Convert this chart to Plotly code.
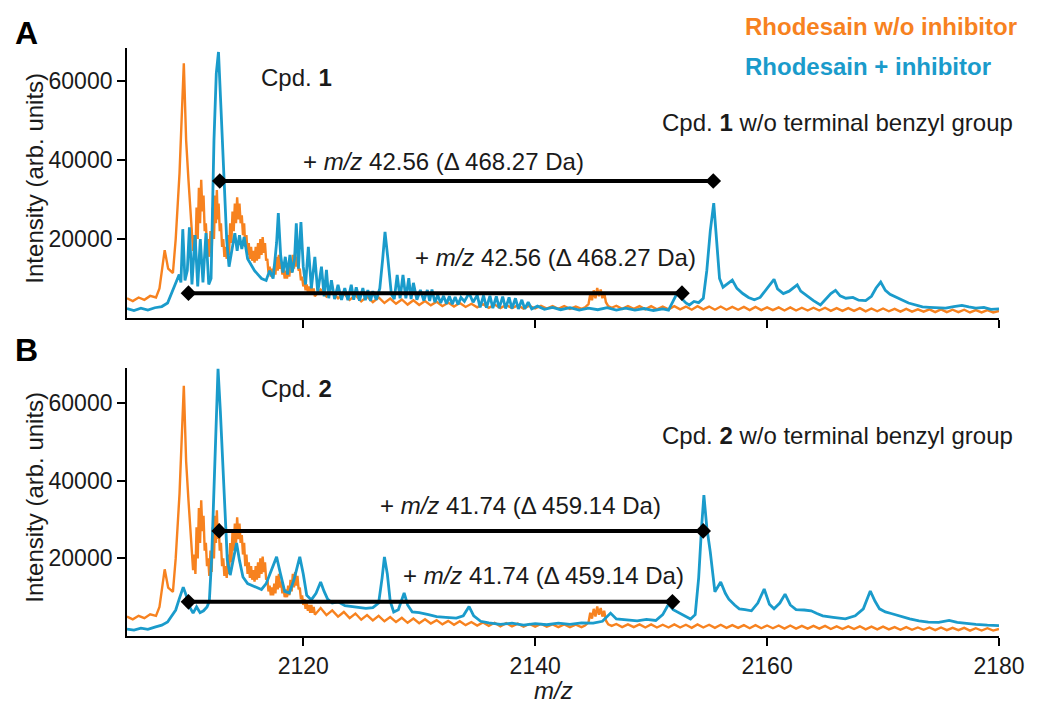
import plotly.graph_objects as go

# ---------------------------------------------------------------- data
# Rhodesain without inhibitor (same control spectrum in both panels);
# the 2110-2121 stretch follows the upper and lower edge of the noisy band
control_mz = [2104.8, 2105.3, 2105.8, 2106.3, 2106.8, 2107.3, 2107.6, 2108.05, 2108.35, 2108.76,
              2109.0, 2109.33, 2109.7, 2109.9, 2110.1, 2110.25,
              2110.4, 2110.5, 2110.6, 2110.7, 2110.8, 2110.9, 2111.0, 2111.1, 2111.2, 2111.3,
              2111.4, 2111.5, 2111.6, 2111.7, 2111.8, 2111.9, 2112.0, 2112.1, 2112.2, 2112.3,
              2112.4, 2112.47, 2112.55, 2112.62, 2112.7, 2112.8, 2112.9, 2113.0, 2113.1, 2113.2,
              2113.3, 2113.4, 2113.5, 2113.6, 2113.7, 2113.8, 2113.9, 2114.0, 2114.1, 2114.2,
              2114.3, 2114.4, 2114.5, 2114.6, 2114.7, 2114.8, 2114.9, 2115.0, 2115.1, 2115.2,
              2115.3, 2115.4, 2115.5, 2115.6, 2115.7, 2115.8, 2115.9, 2116.0, 2116.1, 2116.2,
              2116.3, 2116.4, 2116.5, 2116.6, 2116.7, 2116.8, 2116.9, 2117.0, 2117.1, 2117.2,
              2117.3, 2117.4, 2117.5, 2117.6, 2117.7, 2117.8, 2117.9, 2118.0, 2118.1, 2118.2,
              2118.3, 2118.4, 2118.5, 2118.6, 2118.7, 2118.8, 2118.9, 2119.0, 2119.1, 2119.2,
              2119.3, 2119.4, 2119.5, 2119.6, 2119.7, 2119.8, 2119.9, 2120.0, 2120.1, 2120.2,
              2120.3, 2120.4, 2120.5, 2120.6, 2120.7, 2120.8, 2120.9, 2121.0,
              2121.5, 2122.0, 2122.5, 2123.0, 2123.5, 2124.0, 2124.5, 2125.0, 2125.5, 2126.0,
              2126.5, 2127.0, 2127.5, 2128.0, 2128.5, 2129.0, 2129.5, 2130.0, 2130.5, 2131.0,
              2131.5, 2132.0, 2132.5, 2133.0, 2133.5, 2134.0, 2134.5, 2135.0, 2135.5, 2136.0,
              2136.5, 2137.0, 2137.5, 2138.0, 2138.5, 2139.0, 2139.5, 2140.0, 2140.5, 2141.0,
              2141.5, 2142.0, 2142.5, 2143.0, 2143.5, 2144.0, 2144.3, 2144.6, 2144.75, 2144.9,
              2145.05, 2145.2, 2145.35, 2145.5, 2145.65, 2145.8, 2145.95, 2146.1, 2146.3, 2146.6,
              2147.0, 2147.5, 2148.0, 2148.5, 2149.0, 2149.5, 2150.0, 2150.5, 2151.0, 2151.5,
              2152.0, 2152.5, 2153.0, 2153.5, 2154.0, 2154.5, 2155.0, 2155.5, 2156.0, 2156.5,
              2157.0, 2157.5, 2158.0, 2158.5, 2159.0, 2159.5, 2160.0, 2160.5, 2161.0, 2161.5,
              2162.0, 2162.5, 2163.0, 2163.5, 2164.0, 2164.5, 2165.0, 2165.5, 2166.0, 2166.5,
              2167.0, 2167.5, 2168.0, 2168.5, 2169.0, 2169.5, 2170.0, 2170.5, 2171.0, 2171.5,
              2172.0, 2172.5, 2173.0, 2173.5, 2174.0, 2174.5, 2175.0, 2175.5, 2176.0, 2176.5,
              2177.0, 2177.5, 2178.0, 2178.5, 2179.0, 2179.5, 2180.0]
control_int = [5000, 4300, 5200, 4600, 5600, 5200, 7500, 17200, 12500, 11400,
               20000, 36700, 64500, 45000, 35000, 27000,
               22000, 17000, 21000, 16000, 28000, 20000, 33000, 24000, 35000, 27000,
               31000, 22000, 24000, 18000, 20000, 15500, 22000, 16500, 28000, 20000,
               31000, 24000, 32400, 25000, 29000, 22000, 24000, 18000, 20000, 15500,
               18000, 15000, 21000, 16000, 24000, 19000, 27000, 22000, 29000, 24000,
               30600, 25000, 29000, 24000, 26000, 21000, 24000, 18000, 21000, 16000,
               19000, 15000, 18000, 14500, 17000, 14000, 18000, 14500, 19000, 15000,
               20000, 16000, 20500, 16500, 19000, 14500, 15000, 11500, 13000, 10500,
               12500, 10500, 13500, 11000, 15500, 12000, 16000, 12500, 14000, 11000,
               12500, 10000, 12000, 10000, 13000, 10500, 14500, 11500, 16000, 12500,
               16500, 13000, 15500, 12000, 12500, 9500, 10500, 8000, 9500, 7000,
               8500, 6500, 8000, 6000, 8000, 6000, 7500, 5500,
               7200, 5400, 6600, 5000, 6200, 4600, 5800, 4200, 5400, 4000,
               5200, 3800, 4900, 3600, 4700, 3400, 4500, 3300, 4300, 3200,
               4100, 3000, 3900, 2900, 3800, 2800, 3600, 2700, 3500, 2600,
               3400, 2500, 3300, 2500, 3200, 2400, 3100, 2400, 3100, 2400,
               3000, 2300, 3000, 2300, 2900, 2300, 2700, 3500, 6000, 4500,
               7000, 5000, 7600, 5500, 7200, 5000, 6500, 4000, 3000, 2600,
               3100, 2300, 3000, 2300, 3000, 2200, 3000, 2200, 2900, 2200,
               3000, 2200, 2900, 2100, 3000, 2200, 2900, 2100, 2900, 2100,
               2800, 2100, 2800, 2000, 2800, 2000, 2700, 2000, 2700, 1900,
               2700, 1900, 2600, 1900, 2600, 1900, 2600, 1800, 2500, 1800,
               2500, 1800, 2500, 1700, 2400, 1700, 2400, 1700, 2300, 1600,
               2300, 1600, 2200, 1600, 2200, 1500, 2200, 1500, 2100, 1500,
               2100, 1400, 2000, 1400, 2000, 1400, 1800]

# Rhodesain + compound 1
cpd1_mz = [2104.8, 2105.4, 2106.0, 2106.6, 2107.2, 2107.8, 2108.3, 2108.7, 2109.0, 2109.3,
           2109.45, 2109.61, 2109.8, 2110.0, 2110.18, 2110.4, 2110.67, 2110.9, 2111.12, 2111.35,
           2111.61, 2111.85, 2112.05, 2112.3, 2112.5, 2112.69, 2112.9, 2113.2, 2113.4, 2113.6,
           2113.9, 2114.1, 2114.3, 2114.5, 2114.7, 2114.9, 2115.2, 2115.5, 2115.8, 2116.1,
           2116.4, 2116.8, 2117.1, 2117.4, 2117.7, 2117.85, 2118.05, 2118.25, 2118.45, 2118.65,
           2118.85, 2119.05, 2119.25, 2119.4, 2119.58, 2119.8, 2120.0, 2120.2, 2120.44, 2120.7,
           2121.0, 2121.25, 2121.57, 2121.8, 2122.0, 2122.2, 2122.43, 2122.7, 2123.0, 2123.3,
           2123.58, 2123.85, 2124.14, 2124.35, 2124.57, 2124.85, 2125.14, 2125.35, 2125.57, 2125.8,
           2126.0, 2126.3, 2126.6, 2126.85, 2127.05, 2127.3, 2127.6, 2127.85, 2128.1, 2128.35,
           2128.6, 2128.85, 2129.1, 2129.3, 2129.5, 2129.8, 2130.1, 2130.4, 2130.7, 2130.9,
           2131.1, 2131.35, 2131.6, 2131.85, 2132.1, 2132.35, 2132.6, 2132.85, 2133.1, 2133.35,
           2133.6, 2133.9, 2134.3, 2134.65, 2135.0, 2135.25, 2135.55, 2135.8, 2136.1, 2136.35,
           2136.65, 2136.9, 2137.2, 2137.45, 2137.75, 2138.0, 2138.3, 2138.55, 2138.85, 2139.1,
           2139.4, 2139.7, 2140.2, 2140.8, 2141.5, 2142.2, 2143.0, 2143.8, 2144.6, 2145.4,
           2146.2, 2147.0, 2147.8, 2148.6, 2149.4, 2150.2, 2151.0, 2151.5, 2151.9, 2152.3,
           2152.6, 2153.0, 2153.3, 2153.7, 2154.1, 2154.5, 2154.8, 2155.1, 2155.4, 2155.65,
           2155.9, 2156.2, 2156.6, 2157.0, 2157.4, 2157.9, 2158.4, 2158.9, 2159.4, 2159.9,
           2160.3, 2160.6, 2160.9, 2161.4, 2161.9, 2162.3, 2162.6, 2162.9, 2163.4, 2164.0,
           2164.6, 2165.1, 2165.5, 2165.9, 2166.3, 2166.8, 2167.4, 2167.9, 2168.5, 2169.0,
           2169.4, 2169.8, 2170.2, 2170.6, 2171.1, 2171.6, 2172.2, 2172.8, 2173.4, 2174.0,
           2174.7, 2175.4, 2176.1, 2176.8, 2177.4, 2178.0, 2178.7, 2179.3, 2180.0]
cpd1_int = [2400, 1900, 2500, 2000, 2600, 2900, 3800, 6500, 8500, 11000,
            9000, 22500, 9500, 12000, 23000, 8500, 21000, 8000, 20000, 9000,
            21500, 8500, 10000, 45000, 62000, 67400, 53400, 32400, 19700, 13000,
            18000, 21500, 17000, 21000, 17500, 20500, 15000, 13500, 12000, 11000,
            10000, 9500, 12000, 10000, 19000, 26600, 16000, 11500, 15500, 11000,
            16000, 11500, 15000, 24000, 12500, 24300, 13000, 8500, 18000, 7500,
            15500, 6500, 13000, 5500, 12200, 5000, 9600, 4800, 8400, 4600,
            7600, 4500, 8400, 4600, 7800, 4400, 7600, 4500, 7100, 4300,
            6800, 4600, 7500, 15000, 21800, 15000, 6000, 4800, 10900, 5000,
            10900, 5000, 10100, 4800, 8900, 4600, 7100, 4400, 7100, 4300,
            7200, 4000, 5800, 3800, 5600, 3600, 5500, 3500, 5300, 3400,
            5200, 4200, 6300, 4000, 5800, 2700, 5700, 2600, 5600, 2500,
            5500, 2500, 5400, 2400, 5200, 2400, 5000, 2300, 4600, 2300,
            4000, 2300, 3000, 2200, 2700, 2100, 2600, 2000, 2500, 2100,
            2600, 2000, 2500, 2000, 2400, 1900, 2300, 2000, 4500, 6600,
            5000, 3800, 3300, 4200, 3900, 5000, 12000, 22000, 29100, 20000,
            10000, 7800, 8600, 9600, 7500, 6200, 5200, 4600, 5200, 7000,
            8500, 9800, 7400, 6200, 6800, 7800, 8400, 6800, 5600, 4400,
            3300, 4800, 6200, 7000, 5600, 5000, 5200, 4500, 4400, 5500,
            7600, 9100, 7000, 6000, 5200, 4600, 3800, 3200, 2800, 2700,
            2600, 2500, 2900, 3200, 2800, 2500, 2700, 2200, 2300]

# Rhodesain + compound 2
cpd2_mz = [2104.8, 2105.4, 2106.0, 2106.6, 2107.2, 2107.8, 2108.3, 2108.7, 2109.0, 2109.3,
           2109.65, 2109.9, 2110.2, 2110.5, 2110.8, 2111.1, 2111.4, 2111.7, 2111.9, 2112.1,
           2112.35, 2112.65, 2112.85, 2113.0, 2113.2, 2113.45, 2113.7, 2114.0, 2114.25, 2114.5,
           2114.8, 2115.2, 2115.6, 2116.0, 2116.4, 2116.8, 2117.2, 2117.7, 2118.0, 2118.4,
           2118.8, 2119.2, 2119.7, 2120.0, 2120.3, 2120.7, 2121.1, 2121.5, 2121.8, 2122.1,
           2122.5, 2123.0, 2123.6, 2124.2, 2124.8, 2125.4, 2126.0, 2126.5, 2126.8, 2127.0,
           2127.25, 2127.5, 2127.8, 2128.2, 2128.7, 2129.0, 2129.4, 2130.0, 2130.8, 2131.5,
           2132.3, 2133.2, 2133.8, 2134.3, 2134.7, 2135.3, 2136.0, 2137.0, 2138.0, 2139.0,
           2140.0, 2141.0, 2142.0, 2143.0, 2144.0, 2145.0, 2145.8, 2146.5, 2147.0, 2147.9,
           2148.8, 2149.6, 2150.4, 2151.0, 2151.5, 2151.9, 2152.4, 2152.9, 2153.4, 2153.8,
           2154.1, 2154.35, 2154.55, 2154.8, 2155.1, 2155.5, 2156.0, 2156.4, 2156.7, 2157.2,
           2157.6, 2158.1, 2158.65, 2159.2, 2159.75, 2160.2, 2160.6, 2161.1, 2161.55, 2162.0,
           2162.5, 2163.2, 2163.8, 2164.3, 2164.8, 2165.7, 2166.75, 2167.6, 2168.3, 2168.9,
           2169.3, 2169.7, 2170.2, 2170.7, 2171.5, 2172.3, 2173.1, 2173.9, 2174.8, 2175.7,
           2176.4, 2177.2, 2178.0, 2179.0, 2180.0]
cpd2_int = [1800, 1500, 2000, 1700, 2300, 2800, 3600, 5500, 6700, 9500,
            12600, 10500, 7500, 5900, 7500, 6000, 6500, 7500, 9000, 20000,
            45000, 68900, 58000, 48000, 32500, 19600, 15700, 20000, 24000, 19500,
            15200, 13500, 13000, 12400, 12000, 13500, 16500, 20400, 16500, 11500,
            11100, 14500, 20400, 16000, 10500, 9300, 11000, 13900, 11500, 9500,
            8500, 8800, 7800, 7600, 7400, 7100, 7300, 8500, 15000, 20400,
            16000, 9000, 6200, 6800, 11100, 8000, 6200, 6000, 5500, 5000,
            4800, 4600, 5200, 7600, 5200, 3800, 3400, 3000, 3300, 2800,
            3200, 2900, 3300, 3000, 3400, 3300, 3800, 5900, 4400, 4200,
            3900, 4300, 4000, 5500, 8200, 6800, 6000, 5000, 4400, 5500,
            15000, 28000, 36300, 28000, 21700, 11400, 13900, 11000, 9500, 8000,
            7000, 6800, 6500, 8500, 12100, 8200, 7000, 8500, 10800, 8000,
            6800, 6700, 6500, 5800, 5200, 4800, 4400, 5200, 7000, 11600,
            9000, 7000, 6200, 5800, 5000, 4400, 3900, 3600, 3500, 4000,
            3500, 3200, 3000, 2800, 2700]

# Mass shifts (m/z) of the adducts and where their brackets start
shift_cpd1 = 42.56
shift_cpd2 = 41.74
bracket_a_start = [2112.8, 2110.1]
bracket_a_level = [34700, 6300]
bracket_b_start = [2112.75, 2110.1]
bracket_b_level = [27100, 8800]

x_ticks = [2120, 2140, 2160, 2180]
y_ticks = [20000, 40000, 60000]

# ---------------------------------------------------------------- style
ORANGE = "#F7821F"
BLUE = "#1A9BCB"
INK = "#1a1a1a"
FONT = "Liberation Sans, Arial, sans-serif"
W, H = 1037, 706
L, R, T, B = 127, 32, 48, 70
PW, PH = W - L - R, H - T - B


def fx(px):
    return (px - L) / PW


def fy(py):
    return (H - B - py) / PH


fig = go.Figure()

for xa, ya, blue_mz, blue_int in [("x", "y", cpd1_mz, cpd1_int), ("x2", "y2", cpd2_mz, cpd2_int)]:
    fig.add_trace(go.Scatter(x=control_mz, y=control_int, mode="lines",
                             line=dict(color=ORANGE, width=2.4), xaxis=xa, yaxis=ya,
                             showlegend=False, hoverinfo="skip"))
    fig.add_trace(go.Scatter(x=blue_mz, y=blue_int, mode="lines",
                             line=dict(color=BLUE, width=2.8), xaxis=xa, yaxis=ya,
                             showlegend=False, hoverinfo="skip"))

# shift brackets: diamond-tipped lines spanning the labelled m/z shift
for xa, ya, starts, levels, shift in [("x", "y", bracket_a_start, bracket_a_level, shift_cpd1),
                                       ("x2", "y2", bracket_b_start, bracket_b_level, shift_cpd2)]:
    for s, lev in zip(starts, levels):
        fig.add_trace(go.Scatter(x=[s, s + shift], y=[lev, lev], mode="lines+markers",
                                 line=dict(color="black", width=4),
                                 marker=dict(symbol="diamond", size=12, color="black"),
                                 xaxis=xa, yaxis=ya, showlegend=False, hoverinfo="skip"))

axis_common = dict(showgrid=False, zeroline=False, showline=True, linecolor="black",
                   linewidth=1.8, ticks="outside", ticklen=8, tickwidth=1.5,
                   tickcolor="black", tickfont=dict(family=FONT, size=23, color=INK))

fig.update_layout(
    width=W, height=H,
    margin=dict(l=L, r=R, t=T, b=B),
    paper_bgcolor="white", plot_bgcolor="white",
    xaxis=dict(domain=[0, 1], anchor="y", range=[2104.8, 2180], tickvals=x_ticks,
               showticklabels=False, **axis_common),
    yaxis=dict(domain=[fy(318), 1.0], anchor="x", range=[0, 68400], tickvals=y_ticks,
               tickformat="d", **axis_common),
    xaxis2=dict(domain=[0, 1], anchor="y2", range=[2104.8, 2180], tickvals=x_ticks,
                **axis_common),
    yaxis2=dict(domain=[0, fy(368)], anchor="x2", range=[0, 69100], tickvals=y_ticks,
                tickformat="d", **axis_common),
)


def label(text, px, py, size=24, color=INK, xanchor="center", angle=0):
    fig.add_annotation(text=text, x=fx(px), y=fy(py), xref="paper", yref="paper",
                       showarrow=False, xanchor=xanchor, yanchor="middle", textangle=angle,
                       font=dict(family=FONT, size=size, color=color))


label("<b>A</b>", 26, 33, size=32, color="black")
label("<b>B</b>", 26, 350, size=32, color="black")
label("<b>Rhodesain w/o inhibitor</b>", 747, 26, color=ORANGE, xanchor="left")
label("<b>Rhodesain + inhibitor</b>", 747, 67, color=BLUE, xanchor="left")

label("Cpd. <b>1</b>", 260, 77, xanchor="left")
label("Cpd. <b>1</b> w/o terminal benzyl group", 1021, 123, xanchor="right")
label("+ <i>m/z</i> %.2f (\u0394 468.27 Da)" % shift_cpd1, 446, 161)
label("+ <i>m/z</i> %.2f (\u0394 468.27 Da)" % shift_cpd1, 558, 257)

label("Cpd. <b>2</b>", 260, 388, xanchor="left")
label("Cpd. <b>2</b> w/o terminal benzyl group", 1021, 435, xanchor="right")
label("+ <i>m/z</i> %.2f (\u0394 459.14 Da)" % shift_cpd2, 523, 505)
label("+ <i>m/z</i> %.2f (\u0394 459.14 Da)" % shift_cpd2, 546, 575)

label("Intensity (arb. units)", 33, 178, size=24, angle=-90)
label("Intensity (arb. units)", 33, 497, size=24, angle=-90)
label("<i>m/z</i>", 556, 690, size=24)

fig.write_html("out.html")
